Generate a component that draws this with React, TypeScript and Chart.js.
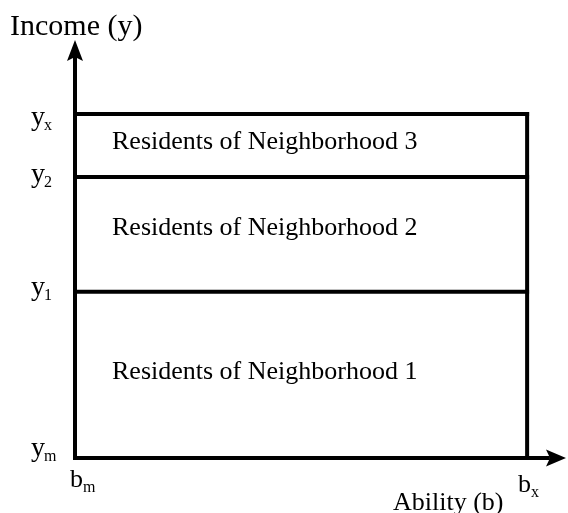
import React, { useEffect, useRef } from "react";
import { Chart, registerables } from "chart.js";

Chart.register(...registerables);

// ---- Data ----
const abilityLevels = [0, 100]; // b_m, b_x
const abilityTickLabels: [string, string][] = [["b", "m"], ["b", "x"]];
const incomeLevels = [0, 48.3, 81.7, 100]; // y_m, y_1, y_2, y_x
const incomeTickLabels: [string, string][] = [["y", "m"], ["y", "1"], ["y", "2"], ["y", "x"]];
const neighborhoodLabels = [
  "Residents of Neighborhood 1",
  "Residents of Neighborhood 2",
  "Residents of Neighborhood 3",
];
const xAxisTitle = "Ability (b)";
const yAxisTitle = "Income (y)";
const xMax = 108.6;
const yMax = 121.5;

// ---- Style ----
const FONT = "'Liberation Serif', 'Times New Roman', serif";
const LINE_W = 4;
const bandBaselineOffsets = [4, 0.5, 3.5];
const yTickBaselineOffsets = [-2.5, 3.5, 5.5, 11.5];

const diagramPlugin = {
  id: "diagram",
  afterDatasetsDraw(chart: any) {
    const ctx = chart.ctx as CanvasRenderingContext2D;
    const xs = chart.scales.x;
    const ys = chart.scales.y;
    const x0 = xs.getPixelForValue(0);
    const y0 = ys.getPixelForValue(0);
    ctx.save();
    ctx.fillStyle = "#000";
    // arrowheads
    const tipY = ys.getPixelForValue(yMax);
    ctx.beginPath();
    ctx.moveTo(x0, tipY);
    ctx.lineTo(x0 + 8, tipY + 21);
    ctx.lineTo(x0, tipY + 17);
    ctx.lineTo(x0 - 8, tipY + 21);
    ctx.closePath();
    ctx.fill();
    const tipX = xs.getPixelForValue(xMax);
    ctx.beginPath();
    ctx.moveTo(tipX, y0);
    ctx.lineTo(tipX - 20, y0 - 8.5);
    ctx.lineTo(tipX - 16, y0);
    ctx.lineTo(tipX - 20, y0 + 8.5);
    ctx.closePath();
    ctx.fill();

    // axis titles
    ctx.textBaseline = "alphabetic";
    ctx.textAlign = "left";
    ctx.font = `30px ${FONT}`;
    ctx.fillText(yAxisTitle, 10, 35);
    ctx.font = `26px ${FONT}`;
    ctx.fillText(xAxisTitle, 393, 510);

    // band labels
    const labelX = 112;
    neighborhoodLabels.forEach((lab, i) => {
      const lo = ys.getPixelForValue(incomeLevels[i]);
      const hi = ys.getPixelForValue(incomeLevels[i + 1]);
      ctx.font = `26px ${FONT}`;
      ctx.fillText(lab, labelX, (lo + hi) / 2 + bandBaselineOffsets[i]);
    });

    // y ticks
    incomeTickLabels.forEach(([main, sub], i) => {
      const py = ys.getPixelForValue(incomeLevels[i]) + yTickBaselineOffsets[i];
      ctx.font = `28px ${FONT}`;
      ctx.fillText(main, 31, py);
      const w = ctx.measureText(main).width;
      ctx.font = `16px ${FONT}`;
      ctx.fillText(sub, 31 + w - 1, py + 5);
    });

    // x ticks
    const bBase = [487, 492];
    abilityTickLabels.forEach(([main, sub], i) => {
      const px = xs.getPixelForValue(abilityLevels[i]);
      ctx.font = `26px ${FONT}`;
      const w = ctx.measureText(main).width;
      const sx = px - 5 - (i === 1 ? 4 : 0);
      ctx.fillText(main, sx, bBase[i]);
      ctx.font = `16px ${FONT}`;
      ctx.fillText(sub, sx + w, bBase[i] + 5);
    });
    ctx.restore();
  },
};

export default function App() {
  const ref = useRef<HTMLCanvasElement>(null);
  useEffect(() => {
    if (!ref.current) return;
    const line = (data: { x: number; y: number }[]) => ({
      data,
      borderColor: "#000",
      borderWidth: LINE_W,
      pointRadius: 0,
      showLine: true,
      fill: false,
      clip: false as any,
      borderCapStyle: "square" as const,
    });
    const bm = abilityLevels[0];
    const bx = abilityLevels[1];
    const datasets = [
      // axes (stop at arrowhead)
      line([{ x: bm, y: incomeLevels[0] }, { x: bm, y: yMax - 5 }]),
      line([{ x: bm, y: incomeLevels[0] }, { x: xMax - 4, y: incomeLevels[0] }]),
      // right boundary
      line([{ x: bx, y: incomeLevels[0] }, { x: bx, y: incomeLevels[3] }]),
      // horizontal income thresholds
      ...incomeLevels.slice(1).map((v) => line([{ x: bm, y: v }, { x: bx, y: v }])),
    ];
    const chart = new Chart(ref.current, {
      type: "scatter",
      data: { datasets },
      options: {
        animation: false,
        responsive: false,
        layout: { padding: { left: 75, right: 2, top: 40, bottom: 55 } },
        plugins: { legend: { display: false }, tooltip: { enabled: false } },
        scales: {
          x: { type: "linear", min: 0, max: xMax, display: false },
          y: { type: "linear", min: 0, max: yMax, display: false },
        },
      },
      plugins: [diagramPlugin],
    });
    return () => chart.destroy();
  }, []);
  return (
    <div style={{ position: "fixed", left: 0, top: 0, width: 568, height: 513, background: "#fff" }}>
      <canvas ref={ref} width={568} height={513} />
    </div>
  );
}
